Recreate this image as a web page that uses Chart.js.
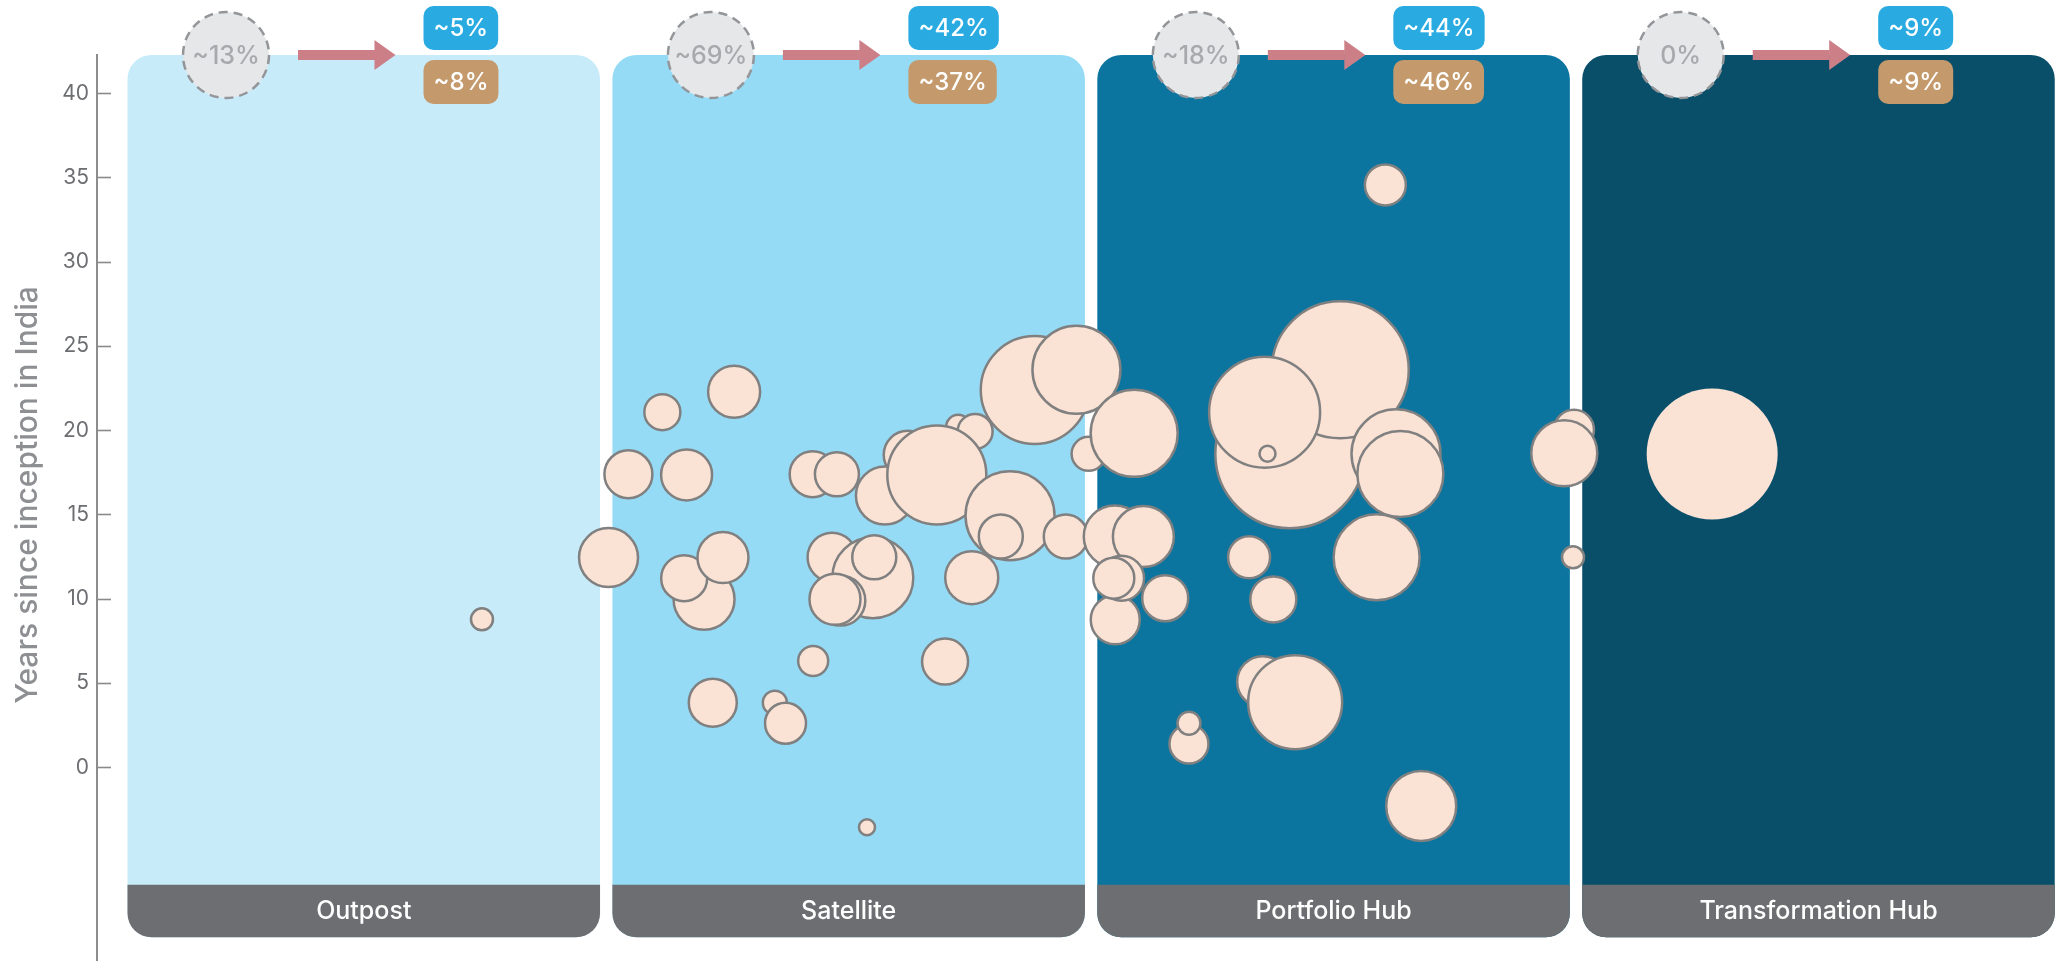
<!DOCTYPE html>
<html>
<head>
<meta charset="utf-8">
<script src="https://cdn.jsdelivr.net/npm/chart.js@4.4.1/dist/chart.umd.min.js"></script>
<style>
  html, body { margin: 0; padding: 0; background: #ffffff; }
  #wrap { width: 2060px; height: 961px; }
</style>
</head>
<body>
<div id="wrap"><canvas id="c" width="2060" height="961"></canvas></div>
<script>
// ---------------- DATA ----------------
const categories    = ['Outpost', 'Satellite', 'Portfolio Hub', 'Transformation Hub'];
const previousShare = ['~13%', '~69%', '~18%', '0%'];
const shareBlue     = ['~5%', '~42%', '~44%', '~9%'];
const shareTan      = ['~8%', '~37%', '~46%', '~9%'];
const yTickValues   = [0, 5, 10, 15, 20, 25, 30, 35, 40];
const yAxisTitle    = 'Years since inception in India';

// companies (x = position along archetype bands, 1 unit per band)
const companyX = [0.731, 0.992, 1.033, 1.103, 1.251, 1.153, 1.189, 1.148, 1.228, 1.207,
                  1.335, 1.357, 1.414, 1.525, 1.413, 1.463, 1.453, 1.537, 1.540, 1.470,
                  1.459, 1.713, 1.748, 1.609, 1.562, 1.669, 1.820, 1.801, 1.741, 1.686,
                  1.871, 1.957, 1.935, 1.982, 2.076, 2.036, 2.095, 2.037, 2.050, 2.034,
                  2.140, 2.397, 2.501, 2.345, 2.351, 2.616, 2.625, 2.576, 2.313, 2.363,
                  2.594, 2.341, 2.408, 2.189, 2.189, 2.668, 2.983, 2.963, 2.981];
const companyY = [8.78, 12.44, 17.39, 21.07, 22.29, 17.35, 9.97, 11.22, 12.44, 3.83,
                  3.83, 2.61, 6.31, -3.56, 17.39, 17.39, 12.46, 11.25, 12.46, 9.89,
                  9.97, 20.2, 19.92, 18.54, 16.12, 17.35, 14.93, 13.69, 11.25, 6.27,
                  22.39, 23.59, 13.69, 18.6, 19.82, 13.69, 13.69, 8.75, 11.22, 11.22,
                  10.03, 18.6, 23.59, 21.07, 18.6, 18.6, 17.4, 12.46, 12.46, 9.96,
                  34.56, 5.08, 3.86, 1.38, 2.61, -2.3, 20.03, 18.63, 12.46];
const companyR = [11, 29.5, 24, 18, 26, 25.5, 30.5, 23, 25.5, 24,
                  12, 20.5, 15, 8, 23, 22, 24.5, 40.5, 22, 25,
                  25.5, 12, 17.5, 24, 29, 49.5, 44.5, 22, 26.5, 23,
                  54, 44, 22, 17, 43.5, 31, 30.5, 24.5, 22.5, 20.5,
                  23, 74.5, 68.5, 55.5, 8, 44.5, 43, 43, 21, 23,
                  20.5, 25.5, 47, 19.5, 11.5, 35, 20, 33, 11];

const hubX = [3.268];
const hubY = [18.59];
const hubR = [65.5];

// ---------------- STYLE ----------------
const FONT = 'Inter, "Noto Sans", "DejaVu Sans", sans-serif';
const PANEL_COLORS = ['#c8ebfa', '#95dbf6', '#0b759f', '#0a4f6a'];
const BAND_COLOR = '#6d6e71';
const PANEL_SPAN = 0.9745;   // visible width of a band (in x units)
const PANEL_BOTTOM = -10.09; // y value of the panel's lower edge
const BAND_TOP = -6.97;      // y value of the label strip's upper edge

function rr(ctx, x, y, w, h, r) {
  const [tl, tr, br, bl] = Array.isArray(r) ? r : [r, r, r, r];
  ctx.beginPath();
  ctx.moveTo(x + tl, y);
  ctx.lineTo(x + w - tr, y);
  ctx.arcTo(x + w, y, x + w, y + tr, tr);
  ctx.lineTo(x + w, y + h - br);
  ctx.arcTo(x + w, y + h, x + w - br, y + h, br);
  ctx.lineTo(x + bl, y + h);
  ctx.arcTo(x, y + h, x, y + h - bl, bl);
  ctx.lineTo(x, y + tl);
  ctx.arcTo(x, y, x + tl, y, tl);
  ctx.closePath();
}

const panelPlugin = {
  id: 'panels',
  beforeDatasetsDraw(chart) {
    const { ctx, chartArea, scales: { x, y } } = chart;
    ctx.save();
    categories.forEach((name, i) => {
      const x0 = x.getPixelForValue(i);
      const x1 = x.getPixelForValue(i + PANEL_SPAN);
      const top = chartArea.top;
      const bottom = y.getPixelForValue(PANEL_BOTTOM);
      const bandTop = y.getPixelForValue(BAND_TOP);
      ctx.fillStyle = PANEL_COLORS[i];
      rr(ctx, x0, top, x1 - x0, bottom - top, 24);
      ctx.fill();
      ctx.fillStyle = BAND_COLOR;
      rr(ctx, x0, bandTop, x1 - x0, bottom - bandTop, [0, 0, 24, 24]);
      ctx.fill();
      ctx.fillStyle = '#ffffff';
      ctx.font = '500 25px ' + FONT;
      ctx.textAlign = 'center';
      ctx.textBaseline = 'middle';
      ctx.fillText(name, (x0 + x1) / 2, (bandTop + bottom) / 2 + 1);
    });
    // inward tick marks on the y axis
    ctx.strokeStyle = '#8a8a8a';
    ctx.lineWidth = 1.6;
    y.ticks.forEach(t => {
      const py = Math.round(y.getPixelForValue(t.value)) + 0.5;
      ctx.beginPath();
      ctx.moveTo(chartArea.left, py);
      ctx.lineTo(chartArea.left + 14, py);
      ctx.stroke();
    });
    // y axis title
    ctx.save();
    ctx.translate(37, 495);
    ctx.rotate(-Math.PI / 2);
    ctx.fillStyle = '#8d8f92';
    ctx.font = '500 30px ' + FONT;
    ctx.textAlign = 'center';
    ctx.textBaseline = 'alphabetic';
    ctx.fillText(yAxisTitle, 0, 0);
    ctx.restore();
    ctx.restore();
  },
  afterDatasetsDraw(chart) {
    const { ctx, chartArea, scales: { x } } = chart;
    const cy = chartArea.top;
    ctx.save();
    categories.forEach((name, i) => {
      const x0 = x.getPixelForValue(i);
      // previous share: dashed circle
      const ccx = x0 + 98.5;
      ctx.beginPath();
      ctx.arc(ccx, cy, 43, 0, Math.PI * 2);
      ctx.fillStyle = '#e6e7e8';
      ctx.fill();
      ctx.setLineDash([9, 6]);
      ctx.lineWidth = 2.5;
      ctx.strokeStyle = '#939598';
      ctx.stroke();
      ctx.setLineDash([]);
      ctx.fillStyle = '#a7a9ac';
      ctx.font = '500 25px ' + FONT;
      ctx.textAlign = 'center';
      ctx.textBaseline = 'middle';
      ctx.fillText(previousShare[i], ccx, cy + 1);
      // arrow
      ctx.fillStyle = '#cd7f88';
      ctx.fillRect(x0 + 170.5, cy - 5, 77, 10);
      ctx.beginPath();
      ctx.moveTo(x0 + 247, cy - 15);
      ctx.lineTo(x0 + 268, cy);
      ctx.lineTo(x0 + 247, cy + 15);
      ctx.closePath();
      ctx.fill();
      // badges
      ctx.font = '500 24px ' + FONT;
      const badges = [[shareBlue[i], '#29abe2', cy - 49], [shareTan[i], '#c49a6c', cy + 5]];
      badges.forEach(([txt, col, by]) => {
        const w = ctx.measureText(txt).width + 20;
        const bx = x0 + 296;
        ctx.fillStyle = col;
        rr(ctx, bx, by, w, 44, 10);
        ctx.fill();
        ctx.fillStyle = '#ffffff';
        ctx.fillText(txt, bx + w / 2, by + 23);
      });
    });
    ctx.restore();
  }
};

const ctxEl = document.getElementById('c');
new Chart(ctxEl, {
  type: 'bubble',
  data: {
    datasets: [
      {
        label: 'Companies',
        data: companyX.map((v, i) => ({ x: v, y: companyY[i], r: companyR[i] })),
        backgroundColor: '#fae2d5',
        borderColor: '#808080',
        borderWidth: 2.5,
        clip: false
      },
      {
        label: 'Transformation Hub',
        data: hubX.map((v, i) => ({ x: v, y: hubY[i], r: hubR[i] })),
        backgroundColor: '#fae2d5',
        borderWidth: 0,
        clip: false
      }
    ]
  },
  options: {
    responsive: false,
    devicePixelRatio: 1,
    animation: false,
    events: [],
    layout: { padding: { top: 55, right: 5, bottom: 0, left: 0 }, autoPadding: false },
    plugins: { legend: { display: false }, tooltip: { enabled: false } },
    scales: {
      x: { type: 'linear', display: false, min: -0.0629, max: 3.975 },
      y: {
        type: 'linear',
        min: -11.5,
        max: 42.27,
        afterFit(scale) {
          scale.width = 97;
          scale.paddingTop = 0;
          scale.paddingBottom = 0;
        },
        afterBuildTicks(scale) { scale.ticks = yTickValues.map(v => ({ value: v })); },
        border: { display: true, color: '#8c8c8c', width: 2 },
        grid: { display: false, drawTicks: false },
        ticks: {
          padding: 8,
          color: '#6d6e71',
          font: { family: FONT, size: 21 },
          callback: v => String(v)
        },
        title: { display: false }
      }
    }
  },
  plugins: [panelPlugin]
});
</script>
</body>
</html>
